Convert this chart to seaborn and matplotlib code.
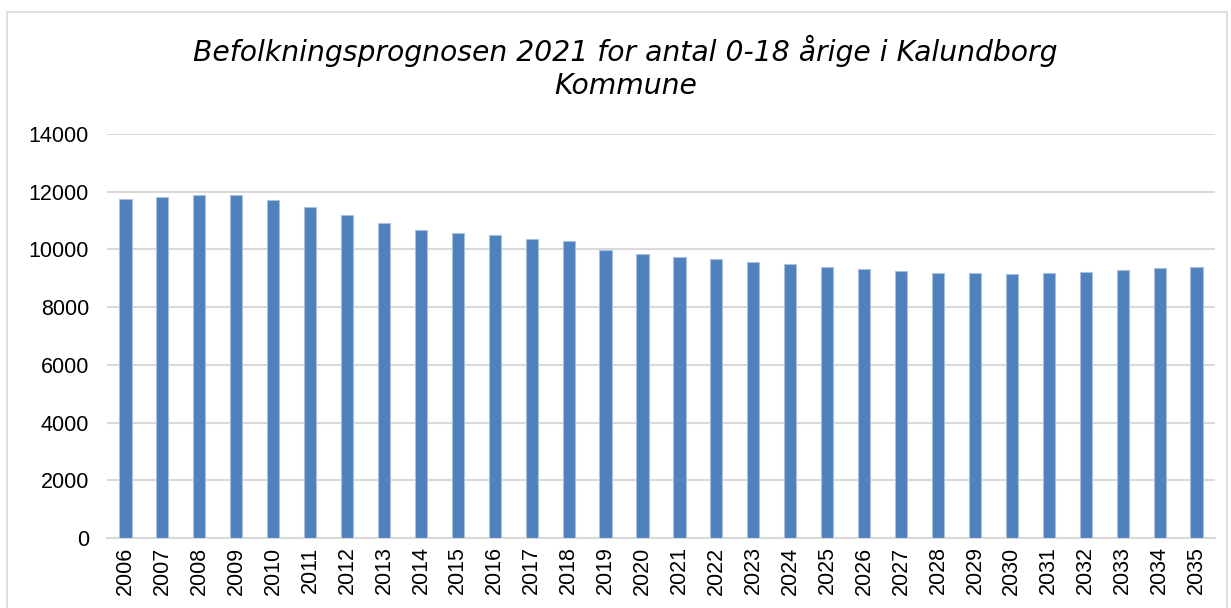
import matplotlib
matplotlib.use('Agg')
import pandas as pd
import matplotlib.pyplot as plt
import seaborn as sns
from matplotlib.patches import Rectangle

# Data
aar = [str(a) for a in range(2006, 2036)]
antal = [11740, 11810, 11870, 11870, 11690, 11480, 11170, 10900, 10660, 10550,
         10480, 10340, 10270, 9990, 9850, 9720, 9650, 9550, 9480, 9370,
         9310, 9260, 9190, 9170, 9150, 9190, 9210, 9280, 9340, 9390]
yticks = [0, 2000, 4000, 6000, 8000, 10000, 12000, 14000]
titel = "Befolkningsprognosen 2021 for antal 0-18 årige i Kalundborg\nKommune"

df = pd.DataFrame({'aar': aar, 'antal': antal})

sns.set_theme(style="white")
plt.rcParams['font.family'] = ['Liberation Sans', 'DejaVu Sans']

fig = plt.figure(figsize=(12.31, 6.08), dpi=100)
ax = fig.add_axes([0.0869, 0.115, 0.9001, 0.665])

sns.barplot(data=df, x='aar', y='antal', color='#4F81BD', width=0.33,
            saturation=1, edgecolor='#A9C0DE', linewidth=0.8, ax=ax, zorder=3)

ax.set_ylim(0, 14000)
ax.set_yticks(yticks)
ax.set_yticklabels([str(t) for t in yticks])
ax.set_xlim(-0.5, len(aar) - 0.5)
ax.tick_params(axis='x', labelrotation=90, labelsize=15.5, length=0, pad=6, labelcolor='black')
ax.tick_params(axis='y', labelsize=15.5, length=0, pad=13, labelcolor='black')
ax.yaxis.grid(True, color='#D9D9D9', linewidth=1.5, zorder=0)
ax.set_axisbelow(True)
ax.set_xlabel('')
ax.set_ylabel('')
for s in ['top', 'right', 'left']:
    ax.spines[s].set_visible(False)
ax.spines['bottom'].set_color('#D9D9D9')
ax.spines['bottom'].set_linewidth(1.5)

fig.text(0.508, 0.889, titel, ha='center', va='center', fontsize=20.3,
         style='italic', family='DejaVu Sans', linespacing=1.2, color='black')

# lys grå ramme rundt om diagrammet
fig.patches.append(Rectangle((0.006, -0.05), 0.991, 1.03, transform=fig.transFigure,
                             fill=False, edgecolor='#D9D9D9', linewidth=1.2))

plt.savefig('out.png', dpi=100)
plt.close()
